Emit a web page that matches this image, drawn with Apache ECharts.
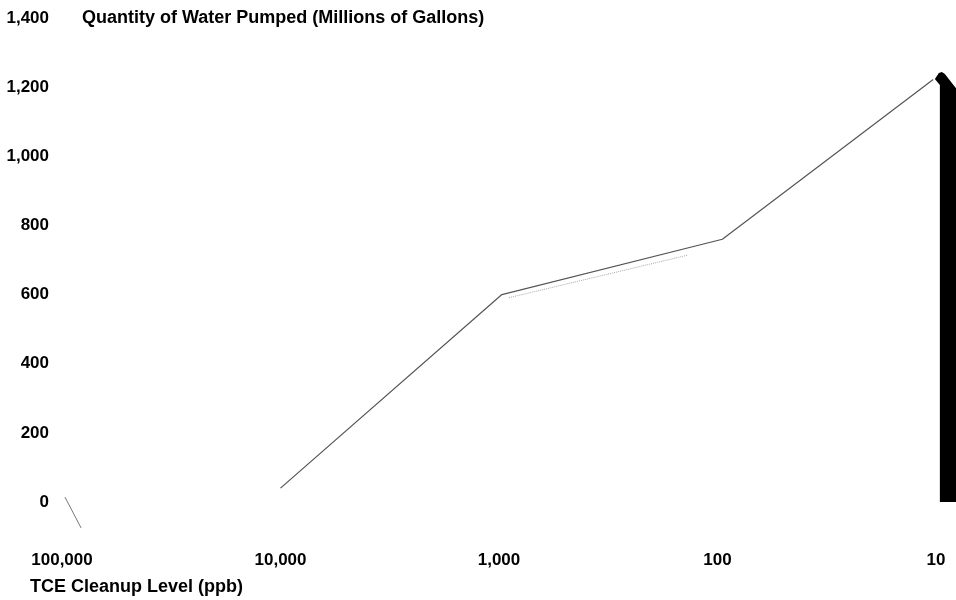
<!DOCTYPE html>
<html>
<head>
<meta charset="utf-8">
<script src="https://cdn.jsdelivr.net/npm/echarts@6/dist/echarts.min.js"></script>
<style>
  html, body { margin: 0; padding: 0; background: #fff; }
  #chart { width: 956px; height: 600px; }
</style>
</head>
<body>
<div id="chart"></div>
<script>
// TCE cleanup level (ppb) vs quantity of water pumped (millions of gallons)
var cleanupLevels = [10000, 970, 95, 10.3];
var waterPumped   = [40, 600, 760, 1222];

// faint dotted trace under the middle segment
var dottedLevels = [900, 137];
var dottedValues = [591, 714];

// small stray stroke near the lower-left corner
var strayLevels = [96900, 81800];
var strayValues = [14, -75];

// solid black band at the right edge
var bandLevel = [9.6];
var bandValue = [1244];

var yTicks = [0, 200, 400, 600, 800, 1000, 1200, 1400];
var xTicks = [100000, 10000, 1000, 100, 10];

var yName = 'Quantity of Water Pumped (Millions of Gallons)';
var xName = 'TCE Cleanup Level (ppb)';

function pairs(xs, ys) { return xs.map(function (x, i) { return [x, ys[i]]; }); }
function fmt(v) { return Math.round(v).toLocaleString('en-US'); }

var FONT = '"Liberation Sans", Arial, Helvetica, sans-serif';

var chart = echarts.init(document.getElementById('chart'));
chart.setOption({
  backgroundColor: '#ffffff',
  animation: false,
  title: [{
    text: xName,
    left: 30, top: 578, padding: 0,
    textStyle: { fontFamily: FONT, fontSize: 18, fontWeight: 'bold', color: '#000' }
  }],
  grid: { left: 62, right: 20, top: 18, bottom: 98, containLabel: false },
  xAxis: {
    type: 'log',
    logBase: 10,
    min: xTicks[xTicks.length - 1],
    max: xTicks[0],
    inverse: true,
    axisLine: { show: false },
    axisTick: { show: false },
    splitLine: { show: false },
    minorTick: { show: false },
    axisLabel: {
      margin: 50,
      fontFamily: FONT, fontSize: 17, fontWeight: 'bold', color: '#000',
      formatter: function (v) { return fmt(v); }
    }
  },
  yAxis: {
    type: 'value',
    min: yTicks[0],
    max: yTicks[yTicks.length - 1],
    interval: 200,
    name: yName,
    nameLocation: 'end',
    nameGap: 0,
    nameTextStyle: {
      fontFamily: FONT, fontSize: 18, fontWeight: 'bold', color: '#000',
      align: 'left', verticalAlign: 'middle', padding: [0, 0, 0, 20]
    },
    axisLine: { show: false },
    axisTick: { show: false },
    splitLine: { show: false },
    axisLabel: {
      margin: 13,
      fontFamily: FONT, fontSize: 17, fontWeight: 'bold', color: '#000',
      formatter: function (v) { return fmt(v); }
    }
  },
  series: [
    {
      type: 'line',
      data: pairs(cleanupLevels, waterPumped),
      symbol: 'none',
      lineStyle: { color: '#555', width: 1.2 },
      z: 3
    },
    {
      type: 'line',
      data: pairs(dottedLevels, dottedValues),
      symbol: 'none',
      lineStyle: { color: '#aaa', width: 1, type: 'dotted' },
      z: 2
    },
    {
      type: 'line',
      data: pairs(strayLevels, strayValues),
      symbol: 'none',
      clip: false,
      lineStyle: { color: '#777', width: 1 },
      z: 2
    },
    {
      type: 'custom',
      clip: false,
      data: pairs(bandLevel, bandValue),
      renderItem: function (params, api) {
        var top = api.coord([api.value(0), api.value(1)]);
        var bottom = api.coord([api.value(0), 0]);
        var x = top[0], yt = top[1], yb = bottom[1];
        return {
          type: 'polygon',
          shape: {
            points: [
              [x, yb], [x, yt + 13], [x - 5, yt + 7], [x - 1, yt + 1], [x + 2, yt],
              [x + 5, yt + 2], [x + 30, yt + 34], [x + 30, yb]
            ]
          },
          style: { fill: '#000' }
        };
      },
      z: 4
    }
  ]
});
</script>
</body>
</html>
